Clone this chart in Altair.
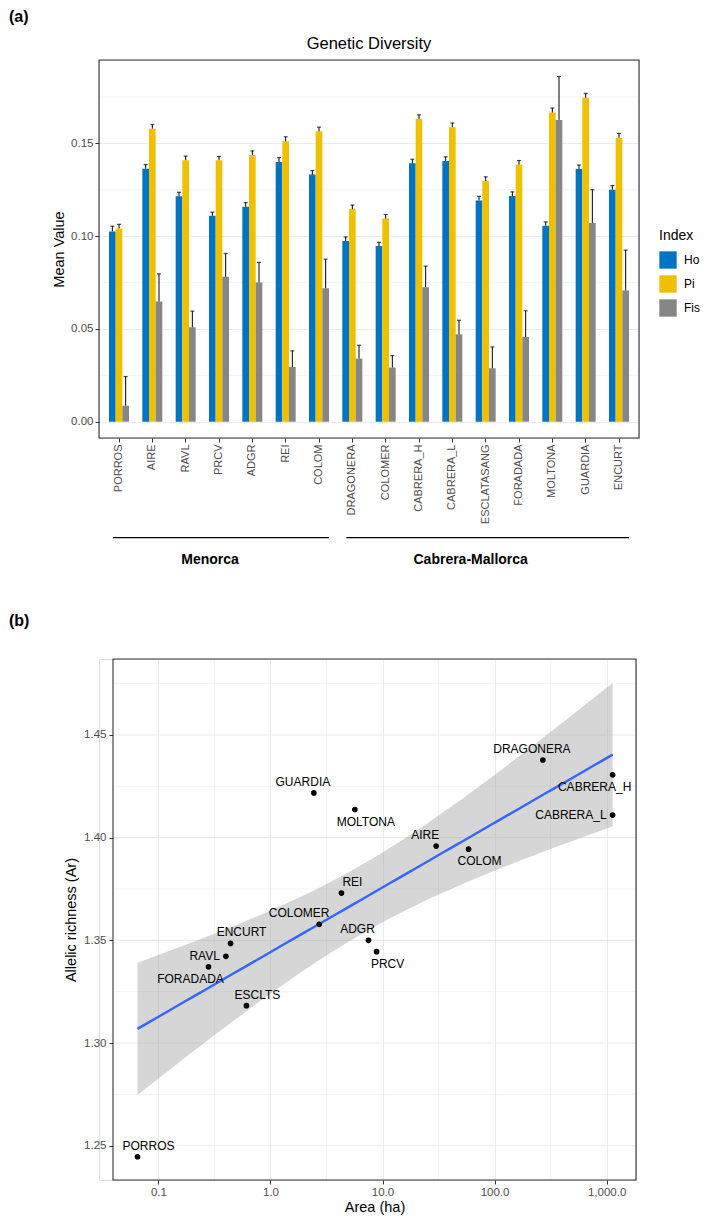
import altair as alt
import pandas as pd
import numpy as np

# ---------------- (a) Genetic diversity ----------------
sites = ["PORROS", "AIRE", "RAVL", "PRCV", "ADGR", "REI", "COLOM", "DRAGONERA",
         "COLOMER", "CABRERA_H", "CABRERA_L", "ESCLATASANG", "FORADADA",
         "MOLTONA", "GUARDIA", "ENCURT"]
ho = [0.1026, 0.1364, 0.1215, 0.1110, 0.1159, 0.1400, 0.1332, 0.0974,
      0.0947, 0.1393, 0.1406, 0.1193, 0.1217, 0.1057, 0.1362, 0.1251]
pi = [0.1042, 0.1580, 0.1410, 0.1410, 0.1438, 0.1512, 0.1566, 0.1146,
      0.1095, 0.1632, 0.1588, 0.1298, 0.1386, 0.1667, 0.1746, 0.1530]
fis = [0.0086, 0.0648, 0.0509, 0.0781, 0.0750, 0.0295, 0.0720, 0.0340,
       0.0292, 0.0725, 0.0471, 0.0288, 0.0457, 0.1627, 0.1071, 0.0707]
ho_se = [0.0028, 0.0022, 0.0022, 0.0020, 0.0022, 0.0024, 0.0022, 0.0022,
         0.0020, 0.0022, 0.0022, 0.0022, 0.0022, 0.0020, 0.0022, 0.0022]
pi_se = [0.0022, 0.0022, 0.0022, 0.0020, 0.0022, 0.0024, 0.0022, 0.0022,
         0.0022, 0.0022, 0.0022, 0.0022, 0.0022, 0.0024, 0.0024, 0.0024]
fis_se = [0.0157, 0.0149, 0.0087, 0.0126, 0.0109, 0.0087, 0.0156, 0.0072,
          0.0064, 0.0114, 0.0076, 0.0115, 0.0141, 0.0234, 0.0180, 0.0218]
indices = ["Ho", "Pi", "Fis"]
index_colors = ["#0073C2", "#EFC000", "#868686"]
y_major_a = [0.0, 0.05, 0.10, 0.15]
y_minor_a = [0.025, 0.075, 0.125, 0.175]
groups = ["Menorca", "Cabrera-Mallorca"]
group_first = ["PORROS", "DRAGONERA"]
group_last = ["COLOM", "ENCURT"]

# ---------------- (b) Allelic richness vs area ----------------
pts = ["PORROS", "ESCLTS", "FORADADA", "RAVL", "ENCURT", "COLOMER", "GUARDIA", "REI",
       "MOLTONA", "ADGR", "PRCV", "AIRE", "COLOM", "DRAGONERA", "CABRERA_L", "CABRERA_H"]
area = [0.065, 0.61, 0.28, 0.40, 0.44, 2.72, 2.44, 4.3,
        5.66, 7.5, 8.85, 30.1, 58.6, 270.0, 1132.0, 1132.0]
ar = [1.2446, 1.3182, 1.3371, 1.3422, 1.3485, 1.3578, 1.4218, 1.3730,
      1.4137, 1.3500, 1.3445, 1.3959, 1.3944, 1.4378, 1.4110, 1.4306]
label_place = ["NE", "NE", "SW", "W", "NE", "NWW", "NW", "NE",
               "SE", "NW", "SE", "NW", "SE", "NW", "W", "SW"]
x_major_b = [0.1, 1.0, 10.0, 100.0, 1000.0]
x_minor_b = [10 ** -0.5, 10 ** 0.5, 10 ** 1.5, 10 ** 2.5]
y_major_b = [1.25, 1.30, 1.35, 1.40, 1.45]
y_minor_b = [1.275, 1.325, 1.375, 1.425, 1.475]

FONT = "Liberation Sans"
GRID = "#EBEBEB"
TICK = "#333333"
LAB = "#4D4D4D"

# ======== chart (a) ========
rows = []
for i, s in enumerate(sites):
    for idx, vals, ses in (("Ho", ho, ho_se), ("Pi", pi, pi_se), ("Fis", fis, fis_se)):
        rows.append({"site": s, "index": idx, "value": vals[i], "upper": vals[i] + ses[i]})
df_a = pd.DataFrame(rows)

W1, H1 = 540, 378
ydom_a = [-0.0088, 0.195]
yscale_a = alt.Scale(domain=ydom_a, nice=False, zero=False)
xscale_a = alt.Scale(domain=sites, paddingInner=0.4, paddingOuter=0.3)
xoff = alt.XOffset("index:N", sort=indices, scale=alt.Scale(domain=indices, paddingInner=0, paddingOuter=0))

xaxis_a = alt.Axis(labelAngle=-90, grid=False, domain=False, tickColor=TICK, tickSize=4,
                   labelColor=LAB, labelFontSize=11, labelPadding=2, labelFont=FONT, title=None)
yaxis_a = alt.Axis(values=y_major_a, format=".2f", title="Mean Value", grid=True,
                   gridColor=GRID, gridWidth=1.1, domain=False, tickColor=TICK, tickSize=4,
                   labelColor=LAB, labelFontSize=11.5, labelPadding=2, labelFont=FONT,
                   titleFontSize=14.5, titleFontWeight="normal", titleColor="black",
                   titlePadding=4, titleFont=FONT)

bars = alt.Chart(df_a).mark_bar().encode(
    x=alt.X("site:N", sort=sites, title=None, scale=xscale_a, axis=xaxis_a),
    xOffset=xoff,
    y=alt.Y("value:Q", scale=yscale_a, axis=yaxis_a),
    color=alt.Color("index:N", sort=indices,
                    scale=alt.Scale(domain=indices, range=index_colors),
                    legend=alt.Legend(title="Index", orient="none", legendX=560, legendY=169,
                                      symbolType="square", symbolSize=300, symbolStrokeWidth=0,
                                      symbolOpacity=1,
                                      labelFontSize=12, labelFont=FONT, labelColor="black",
                                      titleFontSize=14, titleFont=FONT, titleFontWeight="normal",
                                      titleColor="black", rowPadding=6, titlePadding=8,
                                      labelOffset=7)),
)

minor_a = alt.Chart(pd.DataFrame({"v": y_minor_a})).mark_rule(
    color=GRID, strokeWidth=0.6).encode(y=alt.Y("v:Q", scale=yscale_a, axis=yaxis_a))

err = alt.Chart(df_a).mark_rule(color="black", strokeWidth=1).encode(
    x=alt.X("site:N", sort=sites, scale=xscale_a, axis=xaxis_a),
    xOffset=xoff,
    y=alt.Y("value:Q", scale=yscale_a, axis=yaxis_a),
    y2="upper:Q",
)
caps = alt.Chart(df_a).mark_tick(color="black", size=4, thickness=1.2).encode(
    x=alt.X("site:N", sort=sites, scale=xscale_a, axis=xaxis_a),
    xOffset=xoff,
    y=alt.Y("upper:Q", scale=yscale_a, axis=yaxis_a),
)

df_groups = pd.DataFrame({"g": groups, "first": group_first, "last": group_last})
group_rules = alt.Chart(df_groups).mark_rule(color="black", strokeWidth=1.2).encode(
    x=alt.X("first:N", sort=sites, scale=xscale_a, axis=xaxis_a, bandPosition=0.2),
    x2=alt.X2("last:N", bandPosition=1),
    y=alt.value(477.7),
)
g1 = alt.Chart(pd.DataFrame({"g": ["Menorca"], "a": ["PRCV"]})).mark_text(
    fontSize=14, fontWeight="bold", font=FONT, dx=-9, baseline="alphabetic", color="black"
).encode(x=alt.X("a:N", sort=sites, scale=xscale_a, axis=xaxis_a), y=alt.value(504), text="g:N")
g2 = alt.Chart(pd.DataFrame({"g": ["Cabrera-Mallorca"], "a": ["ESCLATASANG"]})).mark_text(
    fontSize=14, fontWeight="bold", font=FONT, dx=-15, baseline="alphabetic", color="black"
).encode(x=alt.X("a:N", sort=sites, scale=xscale_a, axis=xaxis_a), y=alt.value(504), text="g:N")

tag_a = alt.Chart(pd.DataFrame({"t": ["(a)"]})).mark_text(
    fontSize=16, fontWeight="bold", font=FONT, align="left", baseline="top", color="black"
).encode(x=alt.value(-90), y=alt.value(-51), text="t:N")
title_a = alt.Chart(pd.DataFrame({"t": ["Genetic Diversity"]})).mark_text(
    fontSize=16.5, font=FONT, align="center", baseline="alphabetic", color="black"
).encode(x=alt.value(W1 / 2), y=alt.value(-11), text="t:N")
border_a = alt.Chart(pd.DataFrame({"t": [0]})).mark_rect(
    fillOpacity=0, stroke=TICK, strokeWidth=1.1
).encode(x=alt.value(0), x2=alt.value(W1), y=alt.value(0), y2=alt.value(H1))

chart_a = alt.layer(minor_a, bars, err, caps, group_rules, g1, g2, tag_a, title_a,
                    border_a).properties(width=W1, height=H1)

# ======== chart (b) ========
lx = np.log10(np.array(area))
yy = np.array(ar)
n = len(lx)
b1, b0 = np.polyfit(lx, yy, 1)
res = yy - (b0 + b1 * lx)
s = np.sqrt(np.sum(res ** 2) / (n - 2))
xbar = lx.mean()
sxx = np.sum((lx - xbar) ** 2)
tcrit = 2.1448  # t(0.975, df=14)
gx = np.linspace(lx.min(), lx.max(), 80)
fit = b0 + b1 * gx
se = s * np.sqrt(1.0 / n + (gx - xbar) ** 2 / sxx)
df_fit = pd.DataFrame({"area": 10 ** gx, "fit": fit, "lo": fit - tcrit * se, "hi": fit + tcrit * se})

df_b = pd.DataFrame({"site": pts, "area": area, "ar": ar, "place": label_place})

SHIFT = 14          # panel (b) starts 14 px to the right of panel (a)
W2, H2 = 523, 521
WB = W2 + SHIFT
xscale_b = alt.Scale(type="log", domain=[0.0393, 1830], nice=False, range=[SHIFT, WB])
yscale_b = alt.Scale(domain=[1.2333, 1.487], nice=False, zero=False)
xaxis_b = alt.Axis(values=x_major_b, format=",.1f", title="Area (ha)", grid=True, gridColor=GRID,
                   gridWidth=1.1, domain=False, tickColor=TICK, tickSize=4, labelColor=LAB,
                   labelFontSize=11.5, labelPadding=2, labelFont=FONT, titleFontSize=14.5,
                   titleFontWeight="normal", titleColor="black", titlePadding=3, titleFont=FONT,
                   titleX=SHIFT + W2 / 2)
yaxis_b = alt.Axis(values=y_major_b, format=".2f", title="Allelic richness (Ar)", grid=False,
                   domain=False, tickColor=TICK, tickSize=4, offset=-SHIFT,
                   labelColor=LAB, labelFontSize=11.5, labelPadding=3, labelFont=FONT,
                   titleFontSize=14.5, titleFontWeight="normal", titleColor="black",
                   titlePadding=5, titleFont=FONT)

minor_bx = alt.Chart(pd.DataFrame({"v": x_minor_b})).mark_rule(
    color=GRID, strokeWidth=0.6).encode(x=alt.X("v:Q", scale=xscale_b, axis=xaxis_b))
minor_by = alt.Chart(pd.DataFrame({"v": y_minor_b})).mark_rule(
    color=GRID, strokeWidth=0.6).encode(
    y=alt.Y("v:Q", scale=yscale_b, axis=yaxis_b), x=alt.value(SHIFT), x2=alt.value(WB))
major_by = alt.Chart(pd.DataFrame({"v": y_major_b})).mark_rule(
    color=GRID, strokeWidth=1.1).encode(
    y=alt.Y("v:Q", scale=yscale_b, axis=yaxis_b), x=alt.value(SHIFT), x2=alt.value(WB))
band = alt.Chart(df_fit).mark_area(color="#999999", opacity=0.4).encode(
    x=alt.X("area:Q", scale=xscale_b, axis=xaxis_b),
    y=alt.Y("lo:Q", scale=yscale_b, axis=yaxis_b),
    y2="hi:Q",
)
line = alt.Chart(df_fit).mark_line(color="#3366FF", strokeWidth=2.4).encode(
    x=alt.X("area:Q", scale=xscale_b, axis=xaxis_b),
    y=alt.Y("fit:Q", scale=yscale_b, axis=yaxis_b),
)
points = alt.Chart(df_b).mark_circle(color="black", size=32, opacity=1).encode(
    x=alt.X("area:Q", scale=xscale_b, axis=xaxis_b),
    y=alt.Y("ar:Q", scale=yscale_b, axis=yaxis_b),
)

placements = {
    "NE": dict(dx=11, dy=-11, align="center"),
    "NW": dict(dx=-11, dy=-11, align="center"),
    "NWW": dict(dx=-20, dy=-11, align="center"),
    "SE": dict(dx=11, dy=12, align="center"),
    "SW": dict(dx=-18, dy=12, align="center"),
    "W": dict(dx=-6, dy=0, align="right"),
}
label_layers = []
for code, p in placements.items():
    label_layers.append(
        alt.Chart(df_b).transform_filter(alt.datum.place == code).mark_text(
            fontSize=12, font=FONT, color="black", baseline="middle", **p
        ).encode(
            x=alt.X("area:Q", scale=xscale_b, axis=xaxis_b),
            y=alt.Y("ar:Q", scale=yscale_b, axis=yaxis_b),
            text="site:N",
        )
    )

tag_b = alt.Chart(pd.DataFrame({"t": ["(b)"]})).mark_text(
    fontSize=16, fontWeight="bold", font=FONT, align="left", baseline="top", color="black"
).encode(x=alt.value(-90), y=alt.value(-46), text="t:N")
border_b = alt.Chart(pd.DataFrame({"t": [0]})).mark_rect(
    fillOpacity=0, stroke=TICK, strokeWidth=1.1
).encode(x=alt.value(SHIFT), x2=alt.value(WB), y=alt.value(0), y2=alt.value(H2))

chart_b = alt.layer(minor_bx, minor_by, major_by, band, line, points, *label_layers, tag_b,
                    border_b).properties(width=WB, height=H2)

chart = alt.vconcat(chart_a, chart_b, spacing=44).properties(
    padding=0
).configure_view(strokeWidth=0).configure(font=FONT)

chart.save("out.html", embed_options={"renderer": "svg", "actions": False})
